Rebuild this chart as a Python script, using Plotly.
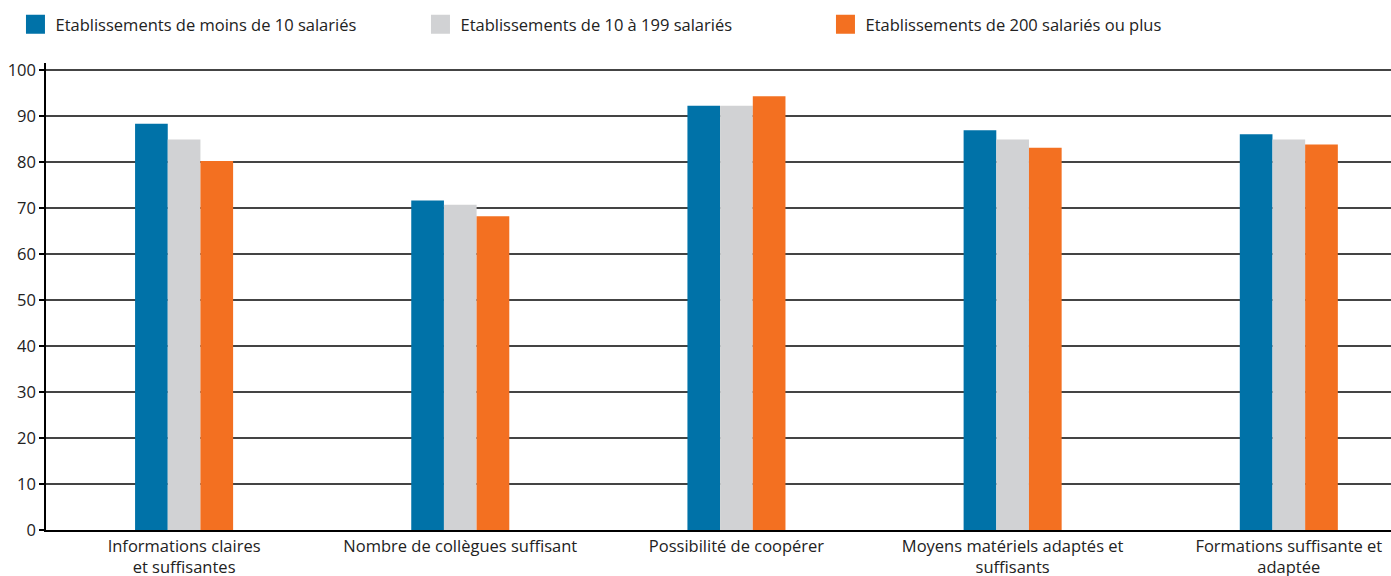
import plotly.graph_objects as go

categories = [
    "Informations claires<br>et suffisantes",
    "Nombre de collègues suffisant",
    "Possibilité de coopérer",
    "Moyens matériels adaptés et<br>suffisants",
    "Formations suffisante et<br>adaptée",
]
series_names = [
    "Etablissements de moins de 10 salariés",
    "Etablissements de 10 à 199 salariés",
    "Etablissements de 200 salariés ou plus",
]
small = [88.3, 71.6, 92.2, 86.9, 86.0]
medium = [84.9, 70.7, 92.2, 84.9, 84.9]
large = [80.2, 68.2, 94.3, 83.1, 83.8]
y_ticks = [0, 10, 20, 30, 40, 50, 60, 70, 80, 90, 100]

colors = ["#0072A8", "#D1D2D4", "#F37021"]
values = [small, medium, large]

FONT = "Open Sans"
FS = 16.5

fig = go.Figure()
for name, vals, col in zip(series_names, values, colors):
    fig.add_trace(go.Bar(x=categories, y=vals, name=name, marker=dict(color=col, line=dict(width=0)),
                         showlegend=False))
for name, col in zip(series_names, colors):
    fig.add_trace(go.Scatter(x=[None], y=[None], mode="markers", name=name,
                             marker=dict(symbol="square", size=16, color=col, line=dict(color=col, width=3))))

fig.update_layout(
    width=1391, height=576,
    margin=dict(l=46, r=0, t=63, b=46, autoexpand=False),
    paper_bgcolor="white", plot_bgcolor="white",
    font=dict(family=FONT, size=FS, color="#222222"),
    barmode="group", bargap=0.645, bargroupgap=0,
    showlegend=True,
    legend=dict(orientation="h", x=-0.0227, xanchor="left", y=1.0824, yanchor="middle",
                entrywidth=360, entrywidthmode="pixels", itemwidth=30,
                font=dict(family=FONT, size=FS, color="#222222")),
)
fig.update_xaxes(range=[-0.5, 4.37], showline=True, linecolor="black", linewidth=1.5,
                 ticks="", showgrid=False, tickfont=dict(size=FS), automargin=False)
fig.update_yaxes(range=[0, 101.5], tickvals=y_ticks, showline=True, linecolor="black", linewidth=1.5,
                 ticks="outside", ticklen=5, tickcolor="black", tickwidth=1.5,
                 showgrid=True, gridcolor="#444444", gridwidth=1.5, zeroline=False,
                 tickfont=dict(size=FS), automargin=False)

fig.write_html("out.html")
